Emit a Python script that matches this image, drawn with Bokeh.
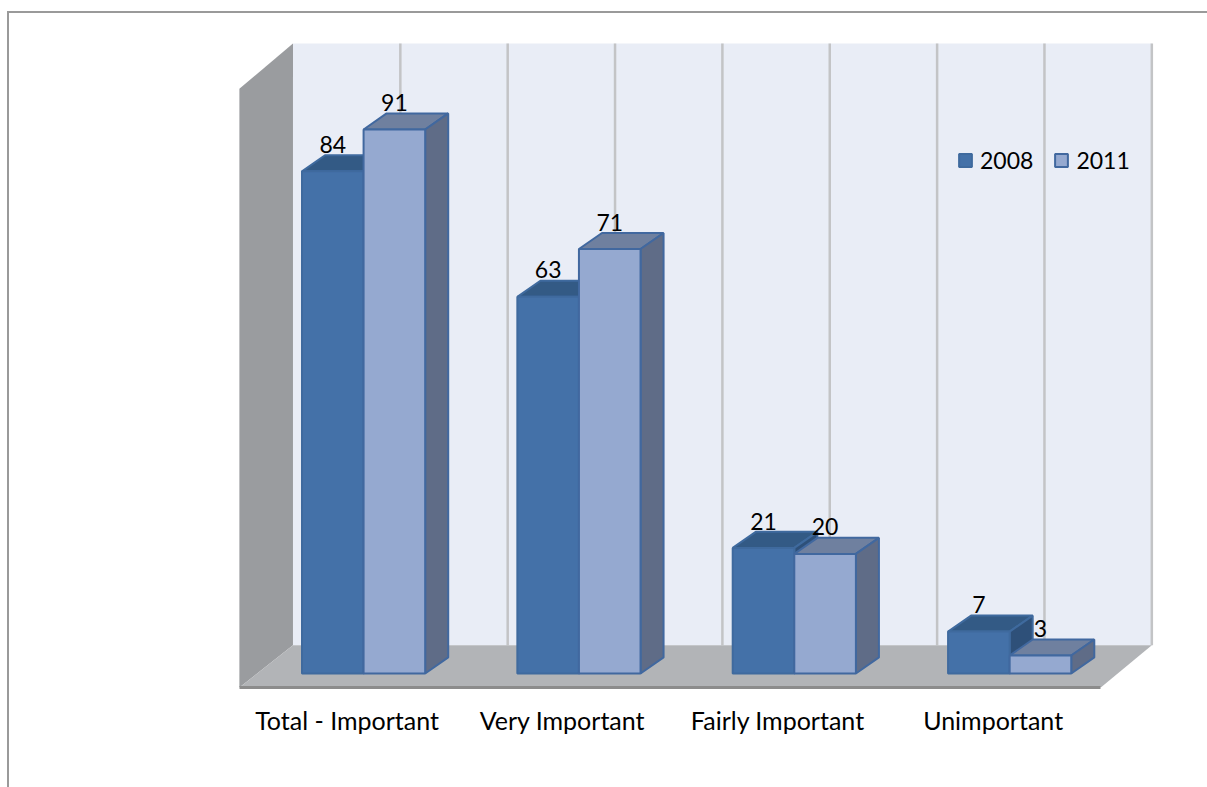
from bokeh.plotting import figure
from bokeh.embed import file_html
from bokeh.resources import INLINE
from bokeh.models import Legend, LegendItem, FixedTicker, Range1d
from bokeh.core.properties import value

categories = ["Total - Important", "Very Important", "Fairly Important", "Unimportant"]
series_names = ["2008", "2011"]
values_2008 = [84, 63, 21, 7]
values_2011 = [91, 71, 20, 3]

FONT = "Lato"
FS = "23px"
FS_CAT = "25px"
BAR_W = 0.286
BAR_SHIFT = 0.0767
DX = 23 / 215
DY = 16 / 5.96
WALL_DX = 53.5 / 215
GRID_STEP = 0.4985
FLOOR_FRONT = -2.35
FLOOR_BACK = 4.7
WALL_TOP_FRONT = 97.8
WALL_TOP_BACK = 105.4
L, R = -0.5, 3.5

p = figure(width=1198, height=774, output_backend="svg", toolbar_location=None,
           x_range=Range1d((10 - 347) / 215, (1208 - 347) / 215),
           y_range=Range1d(FLOOR_FRONT, 110.4),
           min_border_left=0, min_border_right=0, min_border_top=0, min_border_bottom=102,
           background_fill_color="white", border_fill_color="white", outline_line_color=None)
p.styles = {"border-top": "2px solid #9a9a9a", "border-left": "2px solid #9a9a9a",
            "margin-top": "11px", "margin-left": "7px", "box-sizing": "content-box"}
p.grid.visible = False
p.yaxis.visible = False

# walls and floor
wall_right = L + WALL_DX + 8 * GRID_STEP
grid_x = [L + WALL_DX + k * GRID_STEP for k in range(1, 9)]
p.patch([L + WALL_DX, wall_right, wall_right, L + WALL_DX],
        [FLOOR_BACK, FLOOR_BACK, WALL_TOP_BACK, WALL_TOP_BACK],
        fill_color="#e9edf6", line_color=None)
p.segment(grid_x, [FLOOR_BACK] * 8, grid_x, [WALL_TOP_BACK] * 8,
          line_color="#c3c4c6", line_width=2.5)
p.patch([L, L + WALL_DX, L + WALL_DX, L], [FLOOR_FRONT, FLOOR_BACK, WALL_TOP_BACK, WALL_TOP_FRONT],
        fill_color="#9a9c9f", line_color=None)
p.patch([L, L + WALL_DX, wall_right, R], [FLOOR_FRONT, FLOOR_BACK, FLOOR_BACK, FLOOR_FRONT],
        fill_color="#b2b4b7", line_color=None)

styles = [
    dict(front="#4471a8", top="#335a85", side="#2e5079", edge="#3f6a9e"),
    dict(front="#95a9d0", top="#6f809f", side="#5f6c87", edge="#41689f"),
]
renderers = []
for s, (vals, st) in enumerate(zip([values_2008, values_2011], styles)):
    lefts = [i + BAR_SHIFT - BAR_W + s * BAR_W for i in range(len(vals))]
    rights = [l + BAR_W for l in lefts]
    p.patches([[l, l + DX, r + DX, r] for l, r in zip(lefts, rights)],
              [[v, v + DY, v + DY, v] for v in vals],
              fill_color=st["top"], line_color=st["edge"], line_width=2)
    p.patches([[r, r + DX, r + DX, r] for r in rights],
              [[0, DY, v + DY, v] for v in vals],
              fill_color=st["side"], line_color=st["edge"], line_width=2)
    r = p.quad(left=lefts, right=rights, bottom=[0] * len(vals), top=vals,
               fill_color=st["front"], line_color=st["edge"], line_width=2)
    renderers.append(r)

# data labels
for s, vals in enumerate([values_2008, values_2011]):
    p.text([i + BAR_SHIFT - BAR_W / 2 + s * BAR_W for i in range(len(vals))],
           [v + 4.5 for v in vals], text=[str(v) for v in vals],
           text_font=value(FONT), text_font_size=FS, text_color="#000000",
           text_align="center", text_baseline="alphabetic")

# axis
ax = p.xaxis[0]
ax.ticker = FixedTicker(ticks=list(range(len(categories))))
ax.major_label_overrides = {i: c for i, c in enumerate(categories)}
ax.bounds = (L, R)
ax.axis_line_color = "#8c8c8c"
ax.axis_line_width = 3
ax.major_tick_line_color = None
ax.minor_tick_line_color = None
ax.major_label_standoff = 11
ax.major_label_text_font = FONT
ax.major_label_text_font_size = FS_CAT
ax.major_label_text_color = "#000000"

legend = Legend(items=[LegendItem(label=n, renderers=[r]) for n, r in zip(series_names, renderers)],
                orientation="horizontal", location=(948, 513), padding=0, margin=0, spacing=20,
                glyph_width=16, glyph_height=16, label_standoff=7,
                label_text_font=FONT, label_text_font_size=FS, label_text_color="#000000",
                background_fill_alpha=0, border_line_color=None)
p.add_layout(legend, "center")

open("out.html", "w").write(file_html(p, INLINE))
